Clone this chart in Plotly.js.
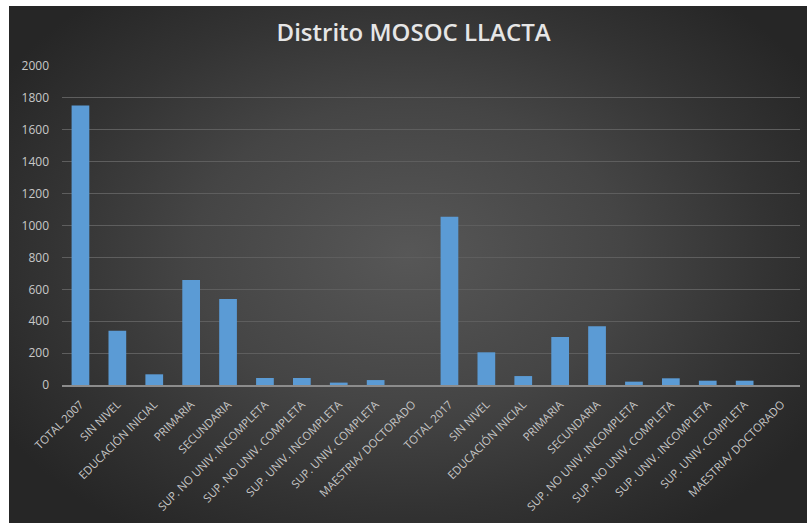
<!DOCTYPE html>
<html>
<head>
<meta charset="utf-8">
<script src="https://cdn.plot.ly/plotly-3.0.1.min.js"></script>
<style>
  html, body { margin: 0; padding: 0; background: #ffffff; }
  #chart {
    position: absolute; left: 9px; top: 6px; width: 798px; height: 517px;
    background: radial-gradient(ellipse 60% 65% at 50% 48%, #575757 0%, #454545 45%, #333333 75%, #262626 100%);
  }
</style>
</head>
<body>
<div id="chart"></div>
<script>
// categories shown on the x axis (two census years, same levels)
const labels = [
  'TOTAL 2007', 'SIN NIVEL', 'EDUCACIÓN INICIAL', 'PRIMARIA', 'SECUNDARIA',
  'SUP. NO UNIV. INCOMPLETA', 'SUP. NO UNIV. COMPLETA', 'SUP. UNIV. INCOMPLETA',
  'SUP. UNIV. COMPLETA', 'MAESTRIA/ DOCTORADO',
  'TOTAL 2017', 'SIN NIVEL', 'EDUCACIÓN INICIAL', 'PRIMARIA', 'SECUNDARIA',
  'SUP. NO UNIV. INCOMPLETA', 'SUP. NO UNIV. COMPLETA', 'SUP. UNIV. INCOMPLETA',
  'SUP. UNIV. COMPLETA', 'MAESTRIA/ DOCTORADO'
];

// population values
const values = [
  1752, 340, 67, 658, 539, 44, 44, 15, 31, 0,
  1055, 205, 56, 301, 368, 21, 42, 27, 27, 0
];

const yTicks = [0, 200, 400, 600, 800, 1000, 1200, 1400, 1600, 1800, 2000];

// labels repeat, so bars sit on index positions and take their text from ticktext
const xPos = labels.map((l, i) => i);

var trace = {
  x: xPos,
  y: values,
  type: 'bar',
  width: 0.48,
  marker: {
    color: '#5b9bd5',
    line: { width: 0 }
  },
  hoverinfo: 'y'
};

var layout = {
  width: 798,
  height: 517,
  paper_bgcolor: 'rgba(0,0,0,0)',
  plot_bgcolor: 'rgba(0,0,0,0)',
  margin: { l: 53, r: 7, t: 60, b: 138 },
  showlegend: false,
  font: { family: 'Open Sans, sans-serif', color: '#c8c8c8' },
  title: {
    text: 'Distrito MOSOC LLACTA',
    font: { family: 'Open Sans, sans-serif', size: 24, color: '#e6e6e6', weight: 600 },
    x: 0.507,
    xanchor: 'center',
    y: 0.948,
    yanchor: 'middle'
  },
  xaxis: {
    range: [-0.5, 19.5],
    tickmode: 'array',
    tickvals: xPos,
    ticktext: labels,
    tickangle: -45,
    tickfont: { size: 11.3, color: '#c8c8c8' },
    showgrid: false,
    zeroline: false,
    showline: true,
    linecolor: '#8c8c8c',
    linewidth: 1.5,
    ticks: '',
    ticklabelstandoff: 7
  },
  yaxis: {
    range: [0, 2000],
    tickmode: 'array',
    tickvals: yTicks,
    tickfont: { size: 12, color: '#c8c8c8' },
    showgrid: true,
    gridcolor: '#5e5e5e',
    gridwidth: 1,
    zeroline: false,
    showline: false,
    ticks: '',
    ticklabelstandoff: 12
  },
  bargap: 0.5
};

Plotly.newPlot('chart', [trace], layout, { staticPlot: true, displayModeBar: false });
</script>
</body>
</html>
